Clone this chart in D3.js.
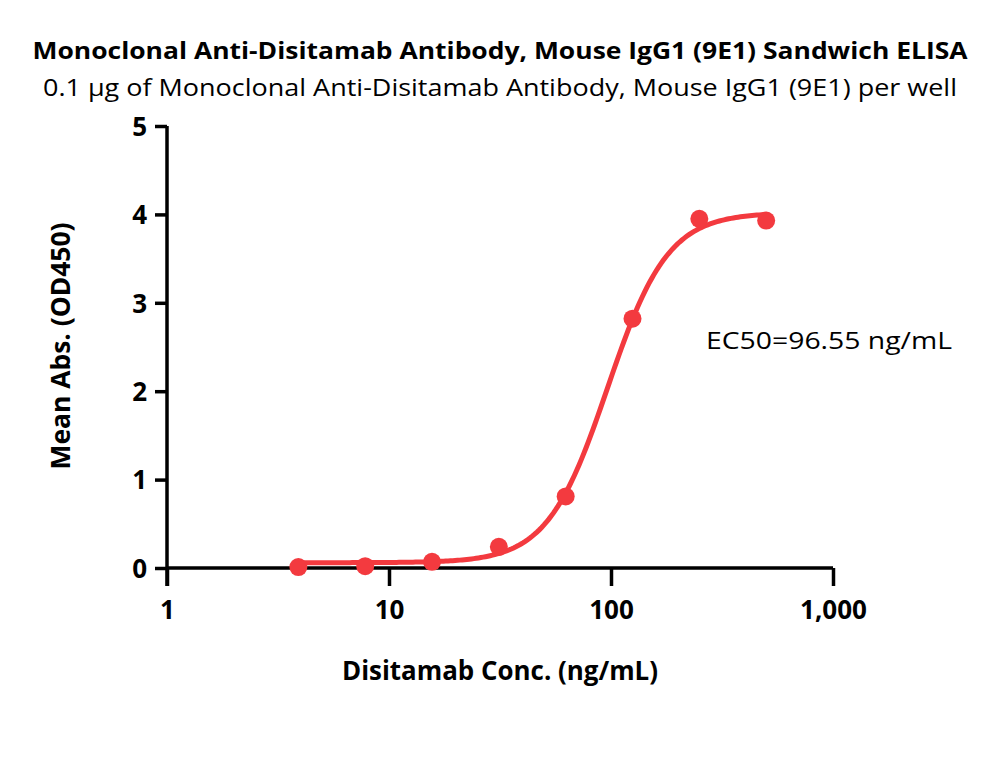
<!DOCTYPE html>
<html><head><meta charset="utf-8">
<script src="https://cdn.jsdelivr.net/npm/d3@7"></script>
<style>body{margin:0;background:#fff}svg{display:block}</style>
</head><body>
<svg id="c" width="1000" height="757"></svg>
<script>
const concentrations = [3.90625, 7.8125, 15.625, 31.25, 62.5, 125, 250, 500];
const meanAbs = [0.01, 0.02, 0.07, 0.24, 0.81, 2.82, 3.95, 3.93];
// 4PL fit parameters: bottom, top, EC50, hill
const fitParams = [0.06, 4.02, 96.55, 3.2];
const xTicks = [1, 10, 100, 1000];
const xTickLabels = ["1", "10", "100", "1,000"];
const yTicks = [0, 1, 2, 3, 4, 5];
const titleText = "Monoclonal Anti-Disitamab Antibody, Mouse IgG1 (9E1) Sandwich ELISA";
const subtitleText = "0.1 µg of Monoclonal Anti-Disitamab Antibody, Mouse IgG1 (9E1) per well";
const xLabel = "Disitamab Conc. (ng/mL)";
const yLabel = "Mean Abs. (OD450)";
const ec50Label = "EC50=96.55 ng/mL";

const FONT = "'Open Sans','Noto Sans',sans-serif";
const RED = "#F33A3F";
const svg = d3.select("#c");
const x = d3.scaleLog().domain([1, 1000]).range([167, 833]);
const y = d3.scaleLinear().domain([0, 5]).range([568, 126]);

function fit(sel, w) {
  sel.attr("textLength", w).attr("lengthAdjust", "spacingAndGlyphs");
}

const t = svg.append("text").attr("x", 500).attr("y", 59).attr("text-anchor", "middle")
  .attr("font-family", FONT).attr("font-weight", "bold").attr("font-size", 23.5).text(titleText);
fit(t, 935);
const s = svg.append("text").attr("x", 500).attr("y", 96).attr("text-anchor", "middle")
  .attr("font-family", FONT).attr("font-size", 23.5).text(subtitleText);
fit(s, 914);

// axes
const xAxis = svg.append("g").attr("transform", "translate(0,568)")
  .call(d3.axisBottom(x).tickValues(xTicks).tickFormat((d, i) => xTickLabels[i]).tickSize(18).tickPadding(10));
const yAxis = svg.append("g").attr("transform", "translate(167,0)")
  .call(d3.axisLeft(y).tickValues(yTicks).tickFormat(d3.format("d")).tickSize(12).tickPadding(8));
[xAxis, yAxis].forEach(g => {
  g.select(".domain").attr("stroke", "#000").attr("stroke-width", 3.5);
  g.selectAll(".tick line").attr("stroke", "#000").attr("stroke-width", 3.5);
  g.selectAll(".tick text").attr("fill", "#000").attr("font-family", FONT)
    .attr("font-weight", "bold").attr("font-size", 26);
});
xAxis.select(".domain").attr("d", `M${x(1)},0H${x(1000)}`);
yAxis.select(".domain").attr("d", `M0,${y(5)}V${y(0) + 18}`);
xAxis.selectAll(".tick text").attr("dy", "0.9em");
yAxis.selectAll(".tick text").attr("dy", "0.36em");

// fitted curve
const [fitBottom, fitTop, fitEC50, fitHill] = fitParams;
const f = c => fitBottom + (fitTop - fitBottom) / (1 + Math.pow(fitEC50 / c, fitHill));
const logMin = Math.log10(concentrations[0]), logMax = Math.log10(concentrations[concentrations.length - 1]);
const curvePts = d3.range(0, 201).map(i => {
  const c = Math.pow(10, logMin + (logMax - logMin) * i / 200);
  return [c, f(c)];
});
svg.append("path").datum(curvePts)
  .attr("d", d3.line().x(d => x(d[0])).y(d => y(d[1])))
  .attr("fill", "none").attr("stroke", RED).attr("stroke-width", 5).attr("stroke-linecap", "round");

svg.append("g").selectAll("circle").data(concentrations).join("circle")
  .attr("cx", d => x(d)).attr("cy", (d, i) => y(meanAbs[i])).attr("r", 9).attr("fill", RED);

const e = svg.append("text").attr("x", 706).attr("y", 349).attr("font-family", FONT)
  .attr("font-size", 24.5).attr("fill", "#000").text(ec50Label);
fit(e, 246);

const xl = svg.append("text").attr("x", 500).attr("y", 680).attr("text-anchor", "middle")
  .attr("font-family", FONT).attr("font-weight", "bold").attr("font-size", 26.5).text(xLabel);
fit(xl, 316);
const yl = svg.append("text").attr("transform", "translate(70,346) rotate(-90)").attr("text-anchor", "middle")
  .attr("font-family", FONT).attr("font-weight", "bold").attr("font-size", 27).text(yLabel);
fit(yl, 247);
</script>
</body></html>
